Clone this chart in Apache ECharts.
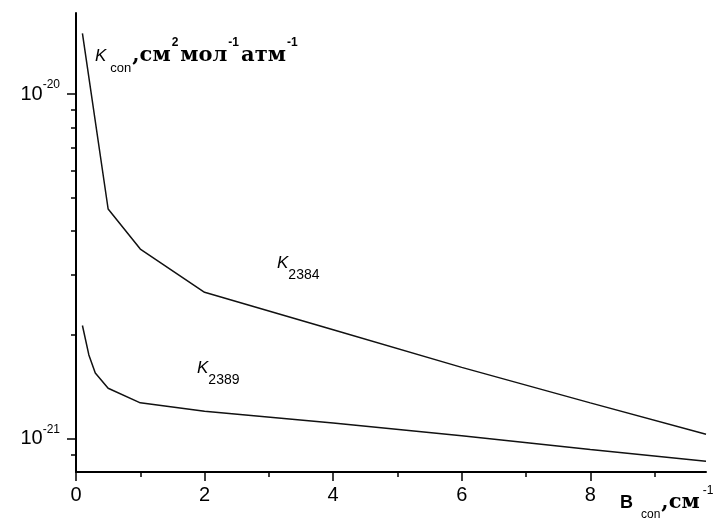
<!DOCTYPE html>
<html>
<head>
<meta charset="utf-8">
<script src="https://cdn.jsdelivr.net/npm/echarts@6/dist/echarts.min.js"></script>
<style>html,body{margin:0;padding:0;background:#fff;}#c{width:720px;height:520px;}</style>
</head>
<body>
<div id="c"></div>
<script>
// ---- data ----
const k2384X = [0.1, 0.5, 1.0, 2.0, 4.0, 6.0, 8.0, 9.8];
const k2384Y = [1.50e-20, 4.64e-21, 3.55e-21, 2.66e-21, 2.07e-21, 1.61e-21, 1.27e-21, 1.03e-21];
const k2389X = [0.1, 0.2, 0.3, 0.5, 1.0, 2.0, 4.0, 6.0, 8.0, 9.8];
const k2389Y = [2.13e-21, 1.75e-21, 1.55e-21, 1.40e-21, 1.27e-21, 1.20e-21, 1.11e-21, 1.02e-21, 0.93e-21, 0.86e-21];
const xMajorTicks = [0, 2, 4, 6, 8];
const xMinorTicks = [1, 3, 5, 7, 9];
const yMajorTicks = [1e-21, 1e-20];
const yMinorTicks = [9e-22, 2e-21, 3e-21, 4e-21, 5e-21, 6e-21, 7e-21, 8e-21, 9e-21];
const xRange = [0, 9.8];
const yRange = [8e-22, 1.72e-20];

const pair = (xs, ys) => xs.map((x, i) => [x, ys[i]]);
const black = '#000';

const chart = echarts.init(document.getElementById('c'), null, {renderer: 'canvas'});
const supStyle = {fontFamily: 'Liberation Sans', fontSize: 12, lineHeight: 12, verticalAlign: 'top', color: black};

chart.setOption({
  animation: false,
  backgroundColor: '#fff',
  grid: {left: 76, right: 14, top: 13, bottom: 48, containLabel: false},
  xAxis: [{
    type: 'value', min: xRange[0], max: xRange[1],
    axisLine: {lineStyle: {color: black, width: 2}},
    axisTick: {show: true, length: 9, lineStyle: {color: black, width: 1.5}, customValues: xMajorTicks},
    axisLabel: {customValues: xMajorTicks, color: black, fontFamily: 'Liberation Sans', fontSize: 20, margin: 13},
    splitLine: {show: false}
  }, {
    type: 'value', min: xRange[0], max: xRange[1], position: 'bottom',
    axisLine: {show: false},
    axisTick: {show: true, length: 5, lineStyle: {color: black, width: 1.5}, customValues: xMinorTicks},
    axisLabel: {show: false},
    splitLine: {show: false}
  }],
  yAxis: [{
    type: 'log', logBase: 10, min: yRange[0], max: yRange[1],
    axisLine: {show: true, lineStyle: {color: black, width: 2}},
    axisTick: {show: true, length: 9, lineStyle: {color: black, width: 1.5}, customValues: yMajorTicks},
    axisLabel: {
      customValues: yMajorTicks, margin: 16,
      formatter: v => '{a|10}{b|' + Math.round(Math.log10(v)) + '}',
      rich: {
        a: {fontFamily: 'Liberation Sans', fontSize: 20, lineHeight: 30, color: black},
        b: supStyle
      }
    },
    splitLine: {show: false}
  }, {
    type: 'log', logBase: 10, min: yRange[0], max: yRange[1], position: 'left',
    axisLine: {show: false},
    axisTick: {show: true, length: 5, lineStyle: {color: black, width: 1.5}, customValues: yMinorTicks},
    axisLabel: {show: false},
    splitLine: {show: false}
  }],
  series: [{
    type: 'line', xAxisIndex: 0, yAxisIndex: 0, data: pair(k2384X, k2384Y),
    showSymbol: false, symbol: 'none', lineStyle: {color: '#111', width: 1.5}
  }, {
    type: 'line', xAxisIndex: 0, yAxisIndex: 0, data: pair(k2389X, k2389Y),
    showSymbol: false, symbol: 'none', lineStyle: {color: '#111', width: 1.5}
  }],
  graphic: [{
    type: 'text', left: 95, top: 37,
    style: {
      text: '{k|K}{s|con}{u|,см}{p|2}{u|мол}{p|-1}{u|атм}{p|-1}',
      rich: {
        k: {fontFamily: 'Liberation Sans', fontStyle: 'italic', fontSize: 17, lineHeight: 38, color: black},
        s: {fontFamily: 'Liberation Sans', fontSize: 13, lineHeight: 13, verticalAlign: 'bottom', color: black, padding: [0, 1, 0, 4]},
        u: {fontFamily: 'DejaVu Serif', fontWeight: 'bold', fontSize: 21, lineHeight: 38, color: black},
        p: {fontFamily: 'Liberation Sans', fontWeight: 'bold', fontSize: 12, lineHeight: 12, verticalAlign: 'top', color: black, padding: [0, 2, 0, 1]}
      }
    }
  }, {
    type: 'text', left: 620, top: 485,
    style: {
      text: '{b|B}{s|con}{u|,см}{p|-1}',
      rich: {
        b: {fontFamily: 'Liberation Sans', fontWeight: 'bold', fontSize: 18, lineHeight: 36, color: black},
        s: {fontFamily: 'Liberation Sans', fontSize: 12, lineHeight: 12, verticalAlign: 'bottom', color: black, padding: [0, 1, 0, 8]},
        u: {fontFamily: 'DejaVu Serif', fontWeight: 'bold', fontSize: 21, lineHeight: 36, color: black},
        p: {fontFamily: 'Liberation Sans', fontSize: 12, lineHeight: 12, verticalAlign: 'top', color: black, padding: [0, 0, 0, 3]}
      }
    }
  }, {
    type: 'text', left: 277, top: 255,
    style: {
      text: '{k|K}{s|2384}',
      rich: {
        k: {fontFamily: 'Liberation Sans', fontStyle: 'italic', fontSize: 17, lineHeight: 38, color: black},
        s: {fontFamily: 'Liberation Sans', fontSize: 14, lineHeight: 14, verticalAlign: 'bottom', color: black}
      }
    }
  }, {
    type: 'text', left: 197, top: 360,
    style: {
      text: '{k|K}{s|2389}',
      rich: {
        k: {fontFamily: 'Liberation Sans', fontStyle: 'italic', fontSize: 17, lineHeight: 38, color: black},
        s: {fontFamily: 'Liberation Sans', fontSize: 14, lineHeight: 14, verticalAlign: 'bottom', color: black}
      }
    }
  }]
});
</script>
</body>
</html>
